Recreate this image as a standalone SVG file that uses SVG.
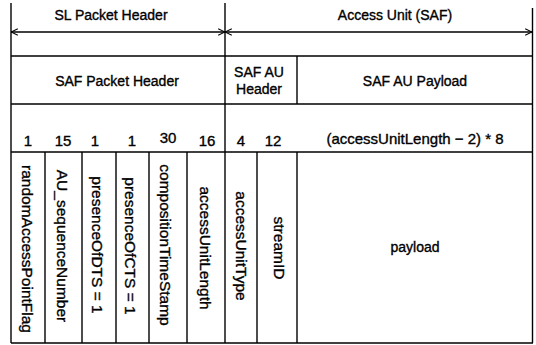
<svg xmlns="http://www.w3.org/2000/svg" width="536" height="345" viewBox="0 0 536 345">
<style>
  .ln{stroke:#000;stroke-width:1.4;fill:none}
  .t{font-family:"Liberation Sans",Arial,sans-serif;font-size:14px;fill:#000;stroke:#000;stroke-width:0.35;text-anchor:middle}
  .n{font-family:"Liberation Sans",Arial,sans-serif;font-size:15px;fill:#000;stroke:#000;stroke-width:0.35;text-anchor:middle}
  .v{font-family:"Liberation Sans",Arial,sans-serif;font-size:15.5px;fill:#000;stroke:#000;stroke-width:0.35;text-anchor:middle}
</style>
<defs>
  <marker id="ah" viewBox="0 0 10 10" refX="9.5" refY="5" markerWidth="8" markerHeight="8" markerUnits="userSpaceOnUse" orient="auto-start-reverse">
    <path d="M1,1 L9.5,5 L1,9" fill="none" stroke="#000" stroke-width="1.4"/>
  </marker>
</defs>
<rect width="536" height="345" fill="#fff"/>
<g id="connectors">
  <line class="ln" x1="11" y1="32" x2="225" y2="32" marker-start="url(#ah)" marker-end="url(#ah)"/>
  <line class="ln" x1="225" y1="32" x2="532" y2="32" marker-start="url(#ah)" marker-end="url(#ah)"/>
</g>
<g id="frame">
  <line class="ln" x1="11" y1="3" x2="11" y2="343"/>
  <line class="ln" x1="225" y1="3" x2="225" y2="343"/>
  <line class="ln" x1="532.5" y1="8" x2="532.5" y2="343"/>
  <line class="ln" x1="11" y1="56" x2="533" y2="56"/>
  <line class="ln" x1="11" y1="104" x2="533" y2="104"/>
  <line class="ln" x1="11" y1="152" x2="533" y2="152"/>
  <line class="ln" x1="11" y1="343" x2="533" y2="343"/>
  <line class="ln" x1="297" y1="56" x2="297" y2="104"/>
  <line class="ln" x1="45" y1="152" x2="45" y2="343"/>
  <line class="ln" x1="82" y1="152" x2="82" y2="343"/>
  <line class="ln" x1="116" y1="152" x2="116" y2="343"/>
  <line class="ln" x1="149" y1="152" x2="149" y2="343"/>
  <line class="ln" x1="187" y1="152" x2="187" y2="343"/>
  <line class="ln" x1="257" y1="152" x2="257" y2="343"/>
  <line class="ln" x1="297" y1="152" x2="297" y2="343"/>
</g>
<g id="sl-packet-header"><text class="t" x="111" y="20">SL Packet Header</text></g>
<g id="access-unit"><text class="t" x="395" y="20">Access Unit (SAF)</text></g>
<g id="saf-packet-header"><text class="t" x="117" y="86">SAF Packet Header</text></g>
<g id="saf-au-header"><text class="t" x="259" y="77">SAF AU</text><text class="t" x="259" y="94">Header</text></g>
<g id="saf-au-payload"><text class="t" x="415" y="86">SAF AU Payload</text></g>
<g id="bits">
  <text class="n" x="28" y="146">1</text>
  <text class="n" x="63" y="146">15</text>
  <text class="n" x="95" y="146">1</text>
  <text class="n" x="132" y="146">1</text>
  <text class="n" x="168" y="143">30</text>
  <text class="n" x="207" y="146">16</text>
  <text class="n" x="241" y="146">4</text>
  <text class="n" x="273" y="146">12</text>
  <text class="n" x="415" y="144">(accessUnitLength − 2) * 8</text>
</g>
<g id="f-randomAccessPointFlag"><text class="v" transform="translate(22,249) rotate(90)">randomAccessPointFlag</text></g>
<g id="f-AU_sequenceNumber"><text class="v" transform="translate(57,246) rotate(90)">AU_sequenceNumber</text></g>
<g id="f-presenceOfDTS"><text class="v" transform="translate(92,245) rotate(90)">presenceOfDTS = 1</text></g>
<g id="f-presenceOfCTS"><text class="v" transform="translate(125,246) rotate(90)">presenceOfCTS = 1</text></g>
<g id="f-compositionTimeStamp"><text class="v" transform="translate(160,245) rotate(90)">compositionTimeStamp</text></g>
<g id="f-accessUnitLength"><text class="v" transform="translate(200,248) rotate(90)">accessUnitLength</text></g>
<g id="f-accessUnitType"><text class="v" transform="translate(236,246) rotate(90)">accessUnitType</text></g>
<g id="f-streamID"><text class="v" transform="translate(274,248) rotate(90)">streamID</text></g>
<g id="f-payload"><text class="t" x="415" y="252">payload</text></g>
</svg>
